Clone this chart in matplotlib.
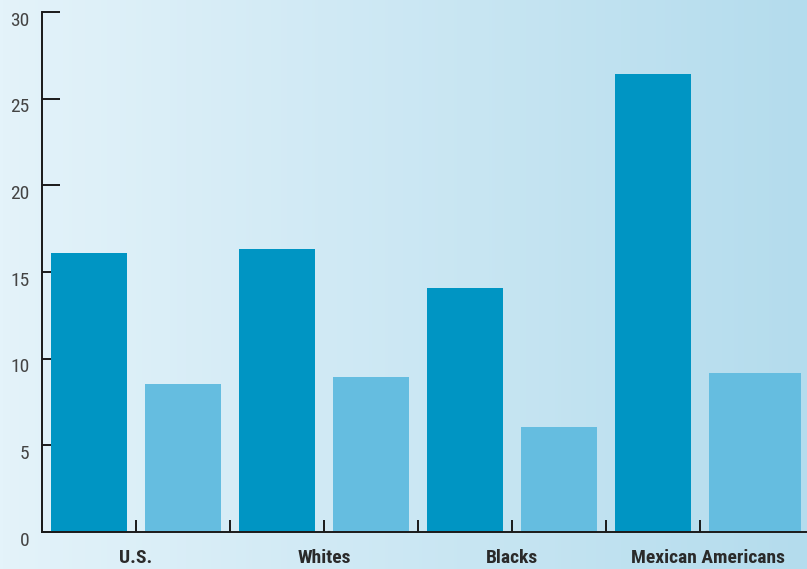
import numpy as np
import matplotlib
matplotlib.use('Agg')
import matplotlib.pyplot as plt
import matplotlib.transforms as mtransforms
from matplotlib import font_manager

groups = ['U.S.', 'Whites', 'Blacks', 'Mexican Americans']
dark_vals = [16.1, 16.3, 14.1, 26.4]
light_vals = [8.55, 8.95, 6.05, 9.2]
yticks = [0, 5, 10, 15, 20, 25, 30]
label_pos = [0.5, 2.5, 4.5, 6.58]

dark_col = '#0095c3'
light_col = '#65bde0'

# prefer a condensed face if one is installed
installed = {f.name for f in font_manager.fontManager.ttflist}
narrow = [n for n in ['Liberation Sans Narrow', 'Roboto Condensed',
                      'Open Sans Condensed', 'DejaVu Sans Condensed']
          if n in installed]
font = narrow[:1] + ['Liberation Sans', 'DejaVu Sans']
is_narrow = bool(narrow)

fig = plt.figure(figsize=(8.07, 5.69), dpi=100)

# background gradient, light on the left to light blue on the right
bg = fig.add_axes([0, 0, 1, 1])
c0 = np.array([228, 243, 250]) / 255.
c1 = np.array([180, 220, 237]) / 255.
t = np.linspace(0, 1, 256)
grad = (c0[None, :] * (1 - t[:, None]) + c1[None, :] * t[:, None])[None, :, :]
bg.imshow(grad, aspect='auto', extent=[0, 1, 0, 1])
bg.axis('off')

ax = fig.add_axes([42 / 807, 37 / 569, 765 / 807, 520 / 569])
ax.patch.set_alpha(0)

# two bars per group, last bar is a bit wider in the original
lefts, heights, widths, colors = [], [], [], []
for g in range(len(groups)):
    lefts += [2 * g - 0.4, 2 * g + 1 - 0.4]
    heights += [dark_vals[g], light_vals[g]]
    widths += [0.8, 0.8]
    colors += [dark_col, light_col]
widths[-1] = 0.975
ax.bar(lefts, heights, width=widths, color=colors, align='edge', zorder=2)

ax.set_xlim(-0.5, 7.638)
ax.set_ylim(0, 30)

for s in ['top', 'right']:
    ax.spines[s].set_visible(False)
for s in ['left', 'bottom']:
    ax.spines[s].set_linewidth(1.4)
    ax.spines[s].set_color('#1a1a1a')
    ax.spines[s].set_zorder(3)

ax.set_yticks(yticks)
ax.set_yticklabels([str(v) for v in yticks], family=font,
                   fontsize=14 if is_narrow else 12.5, color='#444444')
ax.tick_params(axis='y', direction='in', length=13, width=1.4,
               color='#1a1a1a', pad=9)
offset = mtransforms.ScaledTranslation(0, -6.5 / 100, fig.dpi_scale_trans)
for lab in ax.get_yticklabels():
    lab.set_transform(lab.get_transform() + offset)

ax.set_xticks(np.arange(-0.5, 7, 1.0))
ax.set_xticklabels([])
ax.tick_params(axis='x', which='major', direction='in', length=8.6,
               width=1.4, color='#1a1a1a')

trans = mtransforms.blended_transform_factory(ax.transData, ax.transAxes)
for name, x in zip(groups, label_pos):
    ax.text(x, -0.05, name, transform=trans, ha='center', va='center',
            family=font, fontsize=14 if is_narrow else 12,
            fontweight='bold', color='#2a2a2a')

fig.savefig('out.png', dpi=100)
plt.close()
